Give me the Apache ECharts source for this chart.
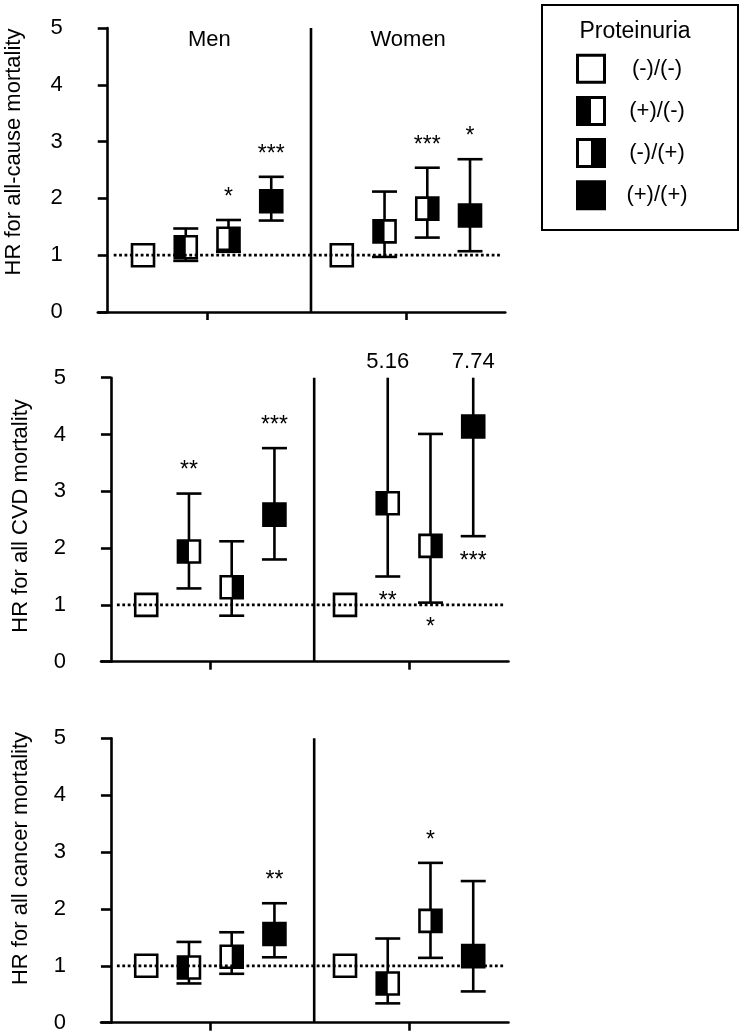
<!DOCTYPE html>
<html><head><meta charset="utf-8">
<script src="https://cdn.jsdelivr.net/npm/echarts@6/dist/echarts.min.js"></script>
<style>html,body{margin:0;padding:0;background:#fff}#c{width:742px;height:1035px}</style>
</head><body><div id="c"></div>
<script>
// ---------------- data ----------------
const categories = ['(-)/(-)', '(+)/(-)', '(-)/(+)', '(+)/(+)'];
const groups = ['Men', 'Women'];
const panelTitles = ['HR for all-cause mortality', 'HR for all CVD mortality', 'HR for all cancer mortality'];
const legendTitle = 'Proteinuria';
const yMin = 0, yMax = 5, yStep = 1;
const refHR = 1;

// [Men[], Women[]] in category order
const allCauseHR  = [[1.00, 1.14, 1.29, 1.95], [1.00, 1.42, 1.82, 1.70]];
const allCauseLo  = [[null, 0.90, 1.06, 1.61], [null, 0.97, 1.31, 1.07]];
const allCauseHi  = [[null, 1.47, 1.62, 2.38], [null, 2.12, 2.54, 2.69]];
const allCauseSig = [['', '', '*', '***'], ['', '', '***', '*']];

const cvdHR  = [[1.00, 1.94, 1.31, 2.59], [1.00, 2.79, 2.04, 4.14]];
const cvdLo  = [[null, 1.29, 0.81, 1.80], [null, 1.50, 1.04, 2.21]];
const cvdHi  = [[null, 2.96, 2.12, 3.76], [null, 5.16, 4.01, 7.74]];
const cvdSig = [['', '**', '', '***'], ['', '**', '*', '***']];

const cancerHR  = [[1.00, 0.97, 1.16, 1.56], [1.00, 0.69, 1.79, 1.17]];
const cancerLo  = [[null, 0.69, 0.86, 1.15], [null, 0.34, 1.14, 0.55]];
const cancerHi  = [[null, 1.42, 1.59, 2.10], [null, 1.48, 2.81, 2.49]];
const cancerSig = [['', '', '', '**'], ['', '', '*', '']];

// ---------------- layout ----------------
const FONT = '"Liberation Sans", Arial, Helvetica, sans-serif';
const XMIN = -0.1, XMAX = 4, DIV = 2.045;
const panels = [
  { hr: allCauseHR, lo: allCauseLo, hi: allCauseHi, sig: allCauseSig, below: [[0,0,0,0],[0,0,0,0]] },
  { hr: cvdHR, lo: cvdLo, hi: cvdHi, sig: cvdSig, below: [[0,0,0,0],[0,1,1,1]] },
  { hr: cancerHR, lo: cancerLo, hi: cancerHi, sig: cancerSig, below: [[0,0,0,0],[0,0,0,0]] }
];
const gridRects = [
  { left: 97.8, top: 28, width: 407.5, height: 284 },
  { left: 101, top: 377.7, width: 407.5, height: 284 },
  { left: 101, top: 738.3, width: 407.5, height: 284.4 }
];
const titlePos = [[14, 152], [21, 516], [21, 858.5]];
const xPos = (g, k) => 1 + 2 * g + (k - 1.5) * 0.43;

function makeRender(p) {
  return function (params, api) {
    const idx = params.dataIndex;
    const g = Math.floor(idx / 4), k = idx % 4;
    const x = xPos(g, k);
    const hr = p.hr[g][k], lo = p.lo[g][k], hi = p.hi[g][k];
    const BW = 22, CAP = 25, LW = 2.6;
    const children = [];
    const pc = api.coord([x, hr]);
    let capTop = null, capBot = null;
    if (lo != null && hi != null) {
      const clipped = hi > yMax;
      const pLo = api.coord([x, lo]);
      const pHi = api.coord([x, clipped ? yMax : hi]);
      children.push({ type: 'line', shape: { x1: pLo[0], y1: pLo[1], x2: pHi[0], y2: pHi[1] }, style: { stroke: '#000', lineWidth: LW } });
      children.push({ type: 'line', shape: { x1: pLo[0] - CAP / 2, y1: pLo[1], x2: pLo[0] + CAP / 2, y2: pLo[1] }, style: { stroke: '#000', lineWidth: LW } });
      if (!clipped) {
        children.push({ type: 'line', shape: { x1: pHi[0] - CAP / 2, y1: pHi[1], x2: pHi[0] + CAP / 2, y2: pHi[1] }, style: { stroke: '#000', lineWidth: LW } });
      } else {
        children.push({ type: 'text', x: pHi[0], y: pHi[1] - 16, style: { text: hi.toFixed(2), fill: '#000', font: '22px ' + FONT, align: 'center', verticalAlign: 'middle' } });
      }
      capTop = pHi[1]; capBot = pLo[1];
    }
    children.push({ type: 'rect', shape: { x: pc[0] - BW / 2, y: pc[1] - BW / 2, width: BW, height: BW }, style: { fill: k === 3 ? '#000' : '#fff', stroke: '#000', lineWidth: LW } });
    if (k === 1) children.push({ type: 'rect', shape: { x: pc[0] - BW / 2, y: pc[1] - BW / 2, width: BW / 2, height: BW }, style: { fill: '#000' } });
    if (k === 2) children.push({ type: 'rect', shape: { x: pc[0], y: pc[1] - BW / 2, width: BW / 2, height: BW }, style: { fill: '#000' } });
    const s = p.sig[g][k];
    if (s) {
      const below = p.below[g][k];
      const y = below ? capBot + 20 + 5.5 : capTop - 28 + 5.5;
      children.push({ type: 'text', x: pc[0], y: y, style: { text: s, fill: '#000', font: '23px ' + FONT, align: 'center', verticalAlign: 'middle' } });
    }
    return { type: 'group', children: children };
  };
}

const grid = gridRects.map(r => Object.assign({ outerBoundsMode: 'none', containLabel: false }, r));
const xAxis = [], yAxis = [], series = [];
panels.forEach((p, i) => {
  xAxis.push({
    type: 'value', gridIndex: i, min: XMIN, max: XMAX,
    axisLine: { show: true, onZero: false, lineStyle: { color: '#000', width: 2.6 } },
    axisTick: { show: true, customValues: [1, 3], length: 8, lineStyle: { color: '#000', width: 2.6 } },
    axisLabel: { show: false }, splitLine: { show: false }
  });
  yAxis.push({
    type: 'value', gridIndex: i, min: yMin, max: yMax, interval: yStep,
    axisLine: { show: true, onZero: true, lineStyle: { color: '#000', width: 2.6 } },
    axisTick: { show: true, length: 10, lineStyle: { color: '#000', width: 2.6 } },
    axisLabel: { margin: 35, fontSize: 22, fontFamily: FONT, color: '#000' },
    splitLine: { show: false }
  });
  const data = [];
  for (let g = 0; g < groups.length; g++)
    for (let k = 0; k < categories.length; k++)
      data.push([xPos(g, k), p.hr[g][k]]);
  series.push({
    type: 'custom', xAxisIndex: i, yAxisIndex: i, clip: false, z: 2,
    renderItem: makeRender(p), data: data, silent: true
  });
  series.push({
    type: 'line', xAxisIndex: i, yAxisIndex: i, z: 5, symbol: 'none', silent: true,
    data: [[0.06, refHR], [3.95, refHR]],
    lineStyle: { color: '#000', width: 2.8, type: [2.8, 2.6], cap: 'butt' }
  });
  series.push({
    type: 'line', xAxisIndex: i, yAxisIndex: i, z: 4, symbol: 'none', silent: true,
    data: [[DIV, yMin], [DIV, yMax]],
    lineStyle: { color: '#000', width: 2.6 }
  });
});
// group labels (top panel only)
series.push({
  type: 'custom', xAxisIndex: 0, yAxisIndex: 0, clip: false, silent: true,
  data: groups.map((_, g) => [g === 0 ? (0 + DIV) / 2 : (DIV + XMAX) / 2, yMax]),
  renderItem: function (params, api) {
    const c = api.coord([api.value(0), api.value(1)]);
    return { type: 'text', x: c[0], y: c[1] + 12, style: { text: groups[params.dataIndex], fill: '#000', font: '22px ' + FONT, align: 'center', verticalAlign: 'middle' } };
  }
});

// graphic: y-axis titles + legend
const graphic = [];
panelTitles.forEach((t, i) => {
  graphic.push({ type: 'text', x: titlePos[i][0], y: titlePos[i][1], rotation: Math.PI / 2,
    style: { text: t, fill: '#000', font: '22px ' + FONT, align: 'center', verticalAlign: 'middle' } });
});
const legendChildren = [
  { type: 'rect', shape: { x: 542, y: 5, width: 196, height: 225 }, style: { fill: '#fff', stroke: '#000', lineWidth: 2 } },
  { type: 'text', x: 635, y: 32, style: { text: legendTitle, fill: '#000', font: '23px ' + FONT, align: 'center', verticalAlign: 'middle' } }
];
const rowY = [68.7, 111, 153, 195.3];
categories.forEach((c, k) => {
  const cy = rowY[k], cx = 591, S = 27;
  legendChildren.push({ type: 'rect', shape: { x: cx - S / 2, y: cy - S / 2, width: S, height: S }, style: { fill: k === 3 ? '#000' : '#fff', stroke: '#000', lineWidth: 3 } });
  if (k === 1) legendChildren.push({ type: 'rect', shape: { x: cx - S / 2, y: cy - S / 2, width: S / 2, height: S }, style: { fill: '#000' } });
  if (k === 2) legendChildren.push({ type: 'rect', shape: { x: cx, y: cy - S / 2, width: S / 2, height: S }, style: { fill: '#000' } });
  legendChildren.push({ type: 'text', x: 657, y: cy, style: { text: c, fill: '#000', font: '22px ' + FONT, align: 'center', verticalAlign: 'middle' } });
});
graphic.push({ type: 'group', children: legendChildren });

const chart = echarts.init(document.getElementById('c'), null, { renderer: 'canvas' });
chart.setOption({
  animation: false,
  backgroundColor: '#fff',
  grid: grid, xAxis: xAxis, yAxis: yAxis, series: series, graphic: graphic
});
</script></body></html>
